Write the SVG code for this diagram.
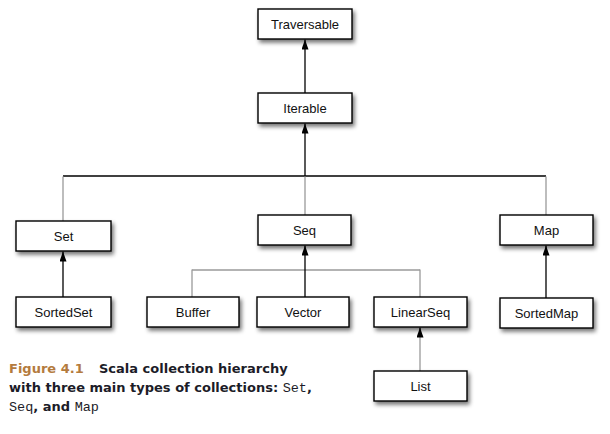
<svg xmlns="http://www.w3.org/2000/svg" width="610" height="434" viewBox="0 0 610 434">
<style>
.box{fill:#fff;stroke:#000;stroke-width:1.4}
.lbl{font-family:"Liberation Sans",Arial,sans-serif;font-size:13px;fill:#111;text-anchor:middle}
.k{stroke:#000;stroke-width:1.3;fill:none}
.g{stroke:#9a9a9a;stroke-width:1.3;fill:none}
.cap{font-family:"DejaVu Sans",Verdana,sans-serif;font-weight:bold;font-size:13px;fill:#1c1c28}
.fig{fill:#b47b3e}
.mono{font-family:"Liberation Mono","Courier New",monospace;font-weight:normal;font-size:13.5px}
</style>
<defs>
<filter id="sh" x="-20%" y="-30%" width="140%" height="180%">
<feGaussianBlur in="SourceAlpha" stdDeviation="2"/>
<feOffset dx="2" dy="3" result="b"/>
<feComponentTransfer><feFuncA type="linear" slope="0.55"/></feComponentTransfer>
<feMerge><feMergeNode/><feMergeNode in="SourceGraphic"/></feMerge>
</filter>
<marker id="ah" viewBox="0 0 10 7" refX="10" refY="3.5" markerWidth="10" markerHeight="7" markerUnits="userSpaceOnUse" orient="auto">
<path d="M0,0 L10,3.5 L0,7 z" fill="#000"/>
</marker>
</defs>
<g id="connectors">
<line class="k" x1="305" y1="93" x2="305" y2="39.5" marker-end="url(#ah)"/>
<line class="k" x1="63" y1="176" x2="546" y2="176"/>
<line class="k" x1="305" y1="176" x2="305" y2="123.5" marker-end="url(#ah)"/>
<line class="g" x1="63" y1="176.6" x2="63" y2="221"/>
<line class="g" x1="305" y1="176.6" x2="305" y2="215"/>
<line class="g" x1="546" y1="176.6" x2="546" y2="215"/>
<line class="k" x1="63" y1="297" x2="63" y2="251.5" marker-end="url(#ah)"/>
<line class="k" x1="546" y1="298" x2="546" y2="245.5" marker-end="url(#ah)"/>
<line class="g" x1="192" y1="270" x2="420" y2="270"/>
<line class="g" x1="192" y1="269.4" x2="192" y2="297"/>
<line class="g" x1="420" y1="269.4" x2="420" y2="297"/>
<line class="k" x1="305" y1="297" x2="305" y2="245.5" marker-end="url(#ah)"/>
<line class="g" x1="420" y1="371" x2="420" y2="332"/>
<line class="k" x1="420" y1="334" x2="420" y2="327.5" marker-end="url(#ah)"/>
</g>
<g id="traversable"><rect class="box" filter="url(#sh)" x="258" y="9" width="94" height="30"/><text class="lbl" x="305" y="28.5">Traversable</text></g>
<g id="iterable"><rect class="box" filter="url(#sh)" x="258" y="93" width="94" height="30"/><text class="lbl" x="305" y="112.5">Iterable</text></g>
<g id="set"><rect class="box" filter="url(#sh)" x="16" y="221" width="95" height="30"/><text class="lbl" x="63.5" y="240.5">Set</text></g>
<g id="seq"><rect class="box" filter="url(#sh)" x="258" y="215" width="93" height="30"/><text class="lbl" x="304.5" y="234.5">Seq</text></g>
<g id="map"><rect class="box" filter="url(#sh)" x="500" y="215" width="93" height="30"/><text class="lbl" x="546.5" y="234.5">Map</text></g>
<g id="sortedset"><rect class="box" filter="url(#sh)" x="16" y="297" width="95" height="30"/><text class="lbl" x="63.5" y="316.5">SortedSet</text></g>
<g id="buffer"><rect class="box" filter="url(#sh)" x="147" y="297" width="92" height="30"/><text class="lbl" x="193" y="316.5">Buffer</text></g>
<g id="vector"><rect class="box" filter="url(#sh)" x="257" y="297" width="92" height="30"/><text class="lbl" x="303" y="316.5">Vector</text></g>
<g id="linearseq"><rect class="box" filter="url(#sh)" x="374" y="297" width="93" height="30"/><text class="lbl" x="420.5" y="316.5">LinearSeq</text></g>
<g id="sortedmap"><rect class="box" filter="url(#sh)" x="500" y="298" width="93" height="30"/><text class="lbl" x="546.5" y="317.5">SortedMap</text></g>
<g id="list"><rect class="box" filter="url(#sh)" x="374" y="371" width="93" height="30"/><text class="lbl" x="420.5" y="390.5">List</text></g>
<g id="caption">
<text class="cap" x="9" y="373"><tspan class="fig">Figure 4.1</tspan><tspan x="99">Scala collection hierarchy</tspan></text>
<text class="cap" x="9" y="392">with three main types of collections: <tspan class="mono">Set</tspan>,</text>
<text class="cap" x="9" y="411"><tspan class="mono">Seq</tspan>, and <tspan class="mono">Map</tspan></text>
</g>
</svg>
